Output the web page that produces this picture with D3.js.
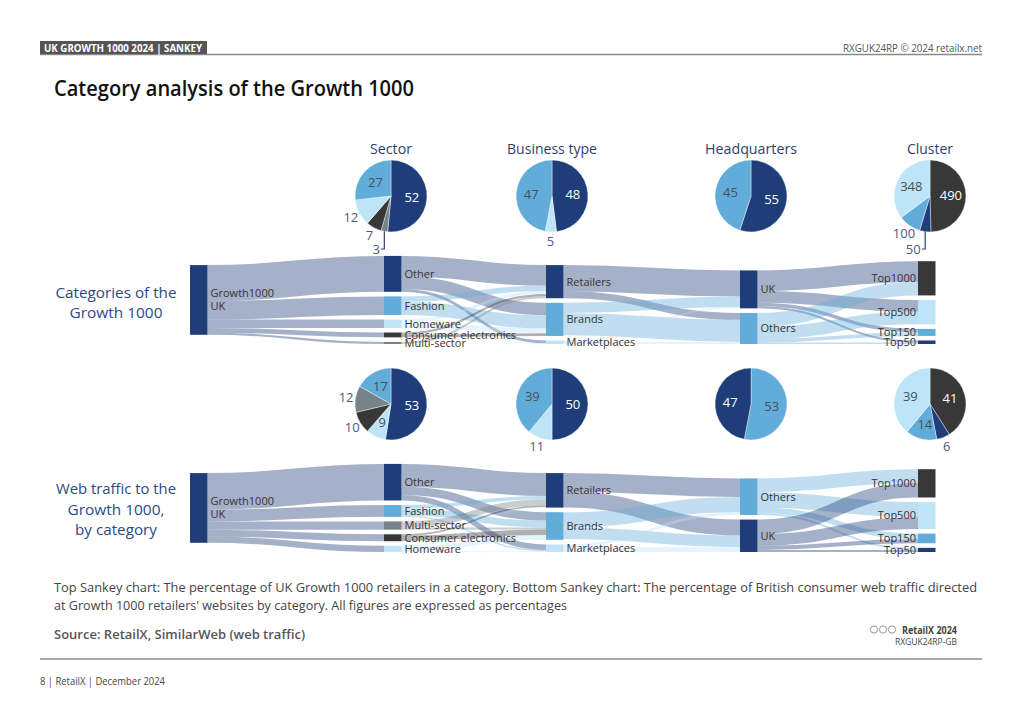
<!DOCTYPE html>
<html><head><meta charset="utf-8">
<script src="https://cdn.jsdelivr.net/npm/d3@7"></script>
<style>body{margin:0;background:#fff}svg{display:block}text{font-family:"Open Sans",sans-serif}</style>
</head><body><svg id="c" width="1024" height="724"></svg>
<script>
// ---------------- DATA ----------------
const headerLeft = "UK GROWTH 1000 2024 | SANKEY";
const headerRight = "RXGUK24RP \u00A9 2024 retailx.net";
const titleText = "Category analysis of the Growth 1000";
const pieTitles = ["Sector", "Business type", "Headquarters", "Cluster"];
const rowLabelsTop = ["Categories of the", "Growth 1000"];
const rowLabelsBottom = ["Web traffic to the", "Growth 1000,", "by category"];
const captionLines = [
  "Top Sankey chart: The percentage of UK Growth 1000 retailers in a category. Bottom Sankey chart: The percentage of British consumer web traffic directed",
  "at Growth 1000 retailers' websites by category. All figures are expressed as percentages"
];
const sourceText = "Source: RetailX, SimilarWeb (web traffic)";
const footerText = "8 | RetailX | December 2024";
const logoLines = ["RetailX 2024", "RXGUK24RP-GB"];

// Pies (clockwise from 12 o'clock)
const topSectorCats = ["Other", "Multi-sector", "Consumer electronics", "Homeware", "Fashion"];
const topSectorVals = [52, 3, 7, 12, 27];
const topBizCats = ["Retailers", "Marketplaces", "Brands"];
const topBizVals = [48, 5, 47];
const topHqCats = ["UK", "Others"];
const topHqVals = [55, 45];
const topClusterCats = ["Top1000", "Top50", "Top150", "Top500"];
const topClusterVals = [490, 50, 100, 348];

const botSectorCats = ["Other", "Homeware", "Consumer electronics", "Multi-sector", "Fashion"];
const botSectorVals = [53, 9, 10, 12, 17];
const botBizCats = ["Retailers", "Marketplaces", "Brands"];
const botBizVals = [50, 11, 39];
const botHqCats = ["Others", "UK"];
const botHqVals = [53, 47];
const botClusterCats = ["Top1000", "Top50", "Top150", "Top500"];
const botClusterVals = [41, 6, 14, 39];

// Sankey columns
const topColumns = [
  ["Growth1000 UK"],
  ["Other", "Fashion", "Homeware", "Consumer electronics", "Multi-sector"],
  ["Retailers", "Brands", "Marketplaces"],
  ["UK", "Others"],
  ["Top1000", "Top500", "Top150", "Top50"]
];
const botColumns = [
  ["Growth1000 UK"],
  ["Other", "Fashion", "Multi-sector", "Consumer electronics", "Homeware"],
  ["Retailers", "Brands", "Marketplaces"],
  ["Others", "UK"],
  ["Top1000", "Top500", "Top150", "Top50"]
];
// Sankey links [source, target, percent]
const topLinksSector = [["Growth1000 UK","Other",52],["Growth1000 UK","Fashion",27],["Growth1000 UK","Homeware",12],["Growth1000 UK","Consumer electronics",7],["Growth1000 UK","Multi-sector",3]];
const topLinksBiz = [["Other","Retailers",30],["Other","Brands",18],["Other","Marketplaces",4],["Fashion","Retailers",8],["Fashion","Brands",19],["Homeware","Retailers",4],["Homeware","Brands",7],["Homeware","Marketplaces",1],["Consumer electronics","Retailers",3],["Consumer electronics","Brands",4],["Multi-sector","Retailers",3]];
const topLinksHq = [["Retailers","UK",38],["Retailers","Others",10],["Brands","UK",15],["Brands","Others",32],["Marketplaces","UK",2],["Marketplaces","Others",3]];
const topLinksCluster = [["UK","Top1000",30],["UK","Top500",17],["UK","Top150",5],["UK","Top50",3],["Others","Top1000",19.6],["Others","Top500",18.2],["Others","Top150",5.1],["Others","Top50",2.1]];

const botLinksSector = [["Growth1000 UK","Other",53],["Growth1000 UK","Fashion",17],["Growth1000 UK","Multi-sector",12],["Growth1000 UK","Consumer electronics",10],["Growth1000 UK","Homeware",9]];
const botLinksBiz = [["Other","Retailers",33],["Other","Brands",12],["Other","Marketplaces",8],["Fashion","Retailers",5],["Fashion","Brands",10],["Fashion","Marketplaces",2],["Multi-sector","Retailers",9],["Multi-sector","Brands",3],["Consumer electronics","Retailers",2],["Consumer electronics","Brands",8],["Homeware","Retailers",1],["Homeware","Brands",7],["Homeware","Marketplaces",1]];
const botLinksHq = [["Retailers","Others",27],["Retailers","UK",23],["Brands","Others",22],["Brands","UK",17],["Marketplaces","Others",4],["Marketplaces","UK",7]];
const botLinksCluster = [["Others","Top1000",20],["Others","Top500",22],["Others","Top150",8],["Others","Top50",3],["UK","Top1000",21],["UK","Top500",17],["UK","Top150",6],["UK","Top50",3]];

// ---------------- STYLE / LAYOUT ----------------
const C = {navy:"#1f3d78", mid:"#62acd9", light:"#bee4f8", dark:"#383838", gray:"#76848a"};
const colorOf = {
  "Growth1000 UK":C.navy, "Other":C.navy, "Fashion":C.mid, "Homeware":C.light,
  "Consumer electronics":C.dark, "Multi-sector":C.gray,
  "Retailers":C.navy, "Brands":C.mid, "Marketplaces":C.light,
  "UK":C.navy, "Others":C.mid,
  "Top1000":C.dark, "Top500":C.light, "Top150":C.mid, "Top50":C.navy
};
// label placement per pie slice: in / out / lead
const placeTop = [["in","lead","out","out","in"],["in","out","in"],["in","in"],["in","lead","out","in"]];
const placeBot = [["in","in","out","out","in"],["in","out","in"],["in","in"],["in","out","in","in"]];
const pieX = [391, 552, 751, 930];
const pieYTop = 196, pieYBot = 404, pieR = 36;
const colX = [190, 384, 546, 740, 918];
const nodeW = 17.5, nodePad = 4.6;
const sankeyBottomTop = 344, sankeyBottomBot = 552;

const svg = d3.select("#c");
const fit = (sel, w) => sel.attr("textLength", w).attr("lengthAdjust", "spacingAndGlyphs");

// ---------------- HEADER ----------------
svg.append("line").attr("x1",40).attr("x2",982).attr("y1",54.5).attr("y2",54.5).attr("stroke","#8a8a8a").attr("stroke-width",1.5);
svg.append("rect").attr("x",40).attr("y",41).attr("width",167).attr("height",13).attr("fill","#555");
fit(svg.append("text").attr("x",44).attr("y",51.5).attr("fill","#fff").attr("font-size",10).attr("font-weight",700).text(headerLeft),158);
fit(svg.append("text").attr("x",982).attr("y",51.5).attr("text-anchor","end").attr("fill","#555").attr("font-size",11).text(headerRight),139);
fit(svg.append("text").attr("x",54).attr("y",96).attr("fill","#111").attr("font-size",21).attr("font-weight",600).text(titleText),360);

// ---------------- ROW LABELS ----------------
const rowColor = "#2c4a84";
const rowWidthsTop = [121, 93], rowWidthsBot = [120, 97, 82];
rowLabelsTop.forEach((t,i)=> fit(svg.append("text").attr("x",116).attr("y",298+i*20).attr("text-anchor","middle").attr("fill",rowColor).attr("font-size",15).text(t), rowWidthsTop[i]));
rowLabelsBottom.forEach((t,i)=> fit(svg.append("text").attr("x",116).attr("y",494+i*20.5).attr("text-anchor","middle").attr("fill",rowColor).attr("font-size",15).text(t), rowWidthsBot[i]));

// ---------------- PIE TITLES ----------------
const titleWidths = [42, 90, 92, 46];
pieTitles.forEach((t,i)=> fit(svg.append("text").attr("x",pieX[i]).attr("y",154).attr("text-anchor","middle").attr("fill","#2d3f6b").attr("font-size",15).text(t), titleWidths[i]));

// ---------------- PIES ----------------
function drawPie(cx, cy, cats, vals, places) {
  const g = svg.append("g").attr("transform",`translate(${cx},${cy})`);
  const data = cats.map((c,i)=>({cat:c, value:vals[i], place:places[i]}));
  const arcs = d3.pie().sort(null).value(d=>d.value)(data);
  const arc = d3.arc().innerRadius(0).outerRadius(pieR);
  g.selectAll("path").data(arcs).join("path").attr("d",arc).attr("fill",d=>colorOf[d.data.cat]).attr("stroke","#fff").attr("stroke-width",0.4);
  const inArc = d3.arc().innerRadius(pieR*0.58).outerRadius(pieR*0.58);
  const outArc = d3.arc().innerRadius(pieR*1.26).outerRadius(pieR*1.26);
  arcs.forEach(a => {
    const col = colorOf[a.data.cat];
    const txt = String(a.data.value);
    if (a.data.place === "in") {
      const [x,y] = inArc.centroid(a);
      g.append("text").attr("x",x).attr("y",y).attr("dy","0.35em").attr("text-anchor","middle")
        .attr("font-size",13).attr("fill",(col===C.navy||col===C.dark)?"#fff":"#4a4f5c").text(txt);
    } else if (a.data.place === "out") {
      const [x,y] = outArc.centroid(a);
      g.append("text").attr("x",x).attr("y",y).attr("dy","0.35em").attr("text-anchor","middle")
        .attr("font-size",13).attr("fill","#4d5a7c").text(txt);
    } else {
      const m = (a.startAngle + a.endAngle)/2;
      const x0 = Math.sin(m)*pieR, y0 = -Math.cos(m)*pieR;
      const yEnd = pieR + 17;
      g.append("path").attr("d",`M${x0},${y0}V${yEnd}H${x0-3.5}`).attr("fill","none").attr("stroke","#2d4270").attr("stroke-width",1.2);
      g.append("text").attr("x",x0-4.5).attr("y",yEnd).attr("dy","0.35em").attr("text-anchor","end")
        .attr("font-size",13).attr("fill","#4d5a7c").text(txt);
    }
  });
}
const topPies = [[topSectorCats,topSectorVals],[topBizCats,topBizVals],[topHqCats,topHqVals],[topClusterCats,topClusterVals]];
const botPies = [[botSectorCats,botSectorVals],[botBizCats,botBizVals],[botHqCats,botHqVals],[botClusterCats,botClusterVals]];
topPies.forEach((p,i)=>drawPie(pieX[i], pieYTop, p[0], p[1], placeTop[i]));
botPies.forEach((p,i)=>drawPie(pieX[i], pieYBot, p[0], p[1], placeBot[i]));

// ---------------- SANKEY ----------------
const hScale = d3.scaleLinear().domain([0,100]).range([0,69]);
const xScale = d3.scaleOrdinal().domain(d3.range(colX.length)).range(colX);

function drawSankey(columns, linkSets, bottom) {
  const nodes = new Map();
  columns.forEach((col,ci)=>col.forEach(name=>nodes.set(name,{name,col:ci,out:[],inn:[]})));
  const links = linkSets.flat().map(([s,t,v])=>({source:nodes.get(s), target:nodes.get(t), value:v}));
  links.forEach(l=>{l.source.out.push(l); l.target.inn.push(l);});
  nodes.forEach(n=>{
    n.value = Math.max(d3.sum(n.out,d=>d.value), d3.sum(n.inn,d=>d.value));
    n.h = hScale(n.value);
    n.x0 = xScale(n.col); n.x1 = n.x0 + nodeW;
  });
  const spans = columns.map(col=>d3.sum(col,nm=>nodes.get(nm).h) + (col.length-1)*nodePad);
  const maxSpan = d3.max(spans);
  const top = bottom - maxSpan;
  columns.forEach((col,ci)=>{
    let y = ci===0 ? top + (maxSpan - spans[ci])/2 : bottom - spans[ci];
    col.forEach(nm=>{const n=nodes.get(nm); n.y0=y; n.y1=y+n.h; y=n.y1+nodePad;});
  });
  nodes.forEach(n=>{
    n.out.sort((a,b)=>a.target.y0-b.target.y0);
    n.inn.sort((a,b)=>a.source.y0-b.source.y0);
    let y=n.y0; n.out.forEach(l=>{l.w=hScale(l.value); l.y0=y+l.w/2; y+=l.w;});
    y=n.y0; n.inn.forEach(l=>{l.y1=y+hScale(l.value)/2; y+=hScale(l.value);});
  });
  const g = svg.append("g");
  const lk = d3.linkHorizontal().source(d=>[d.source.x1,d.y0]).target(d=>[d.target.x0,d.y1]);
  g.append("g").selectAll("path").data(links).join("path")
    .attr("d",lk).attr("fill","none")
    .attr("stroke",d=>colorOf[d.source.name]).attr("stroke-opacity",0.4)
    .attr("stroke-width",d=>Math.max(0.8,d.w));
  const nodeArr = Array.from(nodes.values());
  g.append("g").selectAll("rect").data(nodeArr).join("rect")
    .attr("x",d=>d.x0).attr("y",d=>d.y0).attr("width",nodeW).attr("height",d=>Math.max(1.5,d.h))
    .attr("fill",d=>colorOf[d.name]);
  const lg = g.append("g").attr("font-size",11).attr("fill","#333");
  nodeArr.forEach(n=>{
    const cy=(n.y0+n.y1)/2;
    if (n.col===0) {
      n.name.split(" ").forEach((t,i,arr)=>lg.append("text").attr("x",n.x1+3).attr("y",cy+(i-(arr.length-1)/2)*13).attr("dy","0.35em").text(t));
    } else if (n.col===columns.length-1) {
      lg.append("text").attr("x",n.x0-2).attr("y",cy).attr("dy","0.35em").attr("text-anchor","end").text(n.name);
    } else {
      lg.append("text").attr("x",n.x1+3).attr("y",cy).attr("dy","0.35em").text(n.name);
    }
  });
}
drawSankey(topColumns,[topLinksSector,topLinksBiz,topLinksHq,topLinksCluster],sankeyBottomTop);
drawSankey(botColumns,[botLinksSector,botLinksBiz,botLinksHq,botLinksCluster],sankeyBottomBot);

// ---------------- FOOTER ----------------
fit(svg.append("text").attr("x",54).attr("y",591.5).attr("fill","#444").attr("font-size",12.5).text(captionLines[0]),923);
fit(svg.append("text").attr("x",54).attr("y",609.5).attr("fill","#444").attr("font-size",12.5).text(captionLines[1]),513);
fit(svg.append("text").attr("x",54).attr("y",638.5).attr("fill","#555").attr("font-size",13).attr("font-weight",600).text(sourceText),251);
[874,883,892].forEach(x=>svg.append("circle").attr("cx",x).attr("cy",629.5).attr("r",3.6).attr("fill","none").attr("stroke","#999").attr("stroke-width",1));
fit(svg.append("text").attr("x",957).attr("y",633.5).attr("text-anchor","end").attr("fill","#444").attr("font-size",10).attr("font-weight",700).text(logoLines[0]),55);
fit(svg.append("text").attr("x",957).attr("y",644.5).attr("text-anchor","end").attr("fill","#444").attr("font-size",8.5).text(logoLines[1]),62);
svg.append("line").attr("x1",40).attr("x2",982).attr("y1",659).attr("y2",659).attr("stroke","#8a8a8a").attr("stroke-width",1.5);
fit(svg.append("text").attr("x",40).attr("y",684.5).attr("fill","#444").attr("font-size",10).text(footerText),125);
</script></body></html>
